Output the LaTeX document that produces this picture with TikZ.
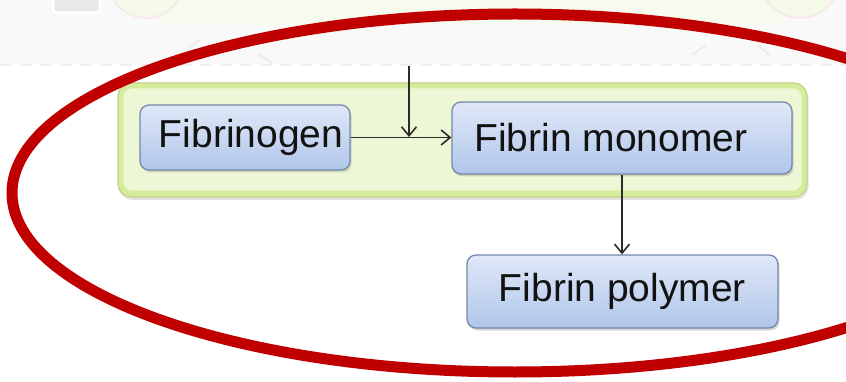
\documentclass[tikz,border=0pt]{standalone}
\usepackage{fontspec}
\setmainfont{Liberation Sans}
\usetikzlibrary{shadows,arrows.meta}
\definecolor{ringred}{HTML}{C00000}
\definecolor{topgray}{HTML}{F9F9F9}
\definecolor{fadegreen}{HTML}{F7FAEE}
\definecolor{fadecircle}{HTML}{F5F9E8}
\definecolor{fadepink}{HTML}{F8EAEA}
\definecolor{fadesquare}{HTML}{E8E8E8}
\definecolor{greenedge}{HTML}{D5EC9C}
\definecolor{greenin}{HTML}{EEF7D5}
\definecolor{greenline}{HTML}{BFD48A}
\definecolor{bluetop}{HTML}{E0E8F8}
\definecolor{bluebot}{HTML}{B0C6EA}
\definecolor{blueline}{HTML}{7587AA}
\definecolor{arrowgray}{HTML}{2B2B2B}
\definecolor{textdark}{HTML}{121212}
\tikzset{
  container/.style={rounded corners=13pt, fill=greenedge, draw=greenline, line width=1.2pt,
    minimum width=689pt, minimum height=114pt, inner sep=0pt,
    drop shadow={shadow xshift=1.5pt, shadow yshift=-3pt, opacity=0.22}},
  bluebox/.style={rounded corners=9pt, top color=bluetop, bottom color=bluebot,
    draw=blueline, line width=1.3pt, inner sep=0pt, text=textdark,
    font=\fontsize{39}{42}\selectfont,
    drop shadow={shadow xshift=1.5pt, shadow yshift=-2.5pt, opacity=0.3}},
  arr/.style={draw=arrowgray, line width=1.6pt, -{Straight Barb[length=9pt,width=15pt,line width=1.6pt]}},
  ring/.style={draw=ringred, line width=11pt},
  fadedash/.style={draw=black!6, line width=2pt, dash pattern=on 12pt off 8pt},
  fadeline/.style={draw=black!7, line width=2pt}
}
\begin{document}
\begin{tikzpicture}[x=1pt,y=-1pt]
\useasboundingbox (0,0) rectangle (846,382);
\clip (0,0) rectangle (846,382);
\fill[white] (0,0) rectangle (846,382);
% faded remnants of the diagram above
\fill[topgray] (0,0) rectangle (846,64);
\fill[fadegreen, rounded corners=10pt] (160,-30) rectangle (785,25);
\fill[fadesquare, rounded corners=4pt, draw=white, line width=3pt] (53,-20) rectangle (100,13);
\fill[fadecircle, draw=fadepink, line width=2pt] (146,-20) circle [radius=38pt];
\fill[fadecircle, draw=fadepink, line width=2pt] (800,-22) circle [radius=40pt];
\draw[fadedash] (0,65) -- (846,65);
\draw[fadeline] (200,40) -- (188,48);
\draw[fadeline] (258,54) -- (272,63);
\draw[fadeline] (706,45) -- (692,55);
\draw[fadeline] (758,45) -- (770,56);
% main content
\node[container] (cont) at (462.5,140) {};
\fill[greenin, rounded corners=9pt] ([shift={(6pt,-6pt)}]cont.north west) rectangle ([shift={(-6pt,7pt)}]cont.south east);
\node[bluebox, minimum width=210pt, minimum height=65pt] (fg) at (245,137.5) {\hspace*{12pt}Fibrinogen};
\node[bluebox, minimum width=340pt, minimum height=72pt] (fm) at (622,138) {Fibrin monomer\hspace*{22pt}};
\node[bluebox, minimum width=311pt, minimum height=73pt] (fp) at (622.5,291.5) {Fibrin polymer};
\coordinate (enz) at (409,66);
\coordinate (join) at (409,137);
\draw[arr] (fg.east) -- (fm.west |- fg.east);
\draw[arr] (enz) -- (join);
\draw[arr] (fm.south) -- (fm.south |- fp.north);
% red ring
\draw[ring] (515,193) ellipse [x radius=503pt, y radius=179pt];
\end{tikzpicture}
\end{document}
